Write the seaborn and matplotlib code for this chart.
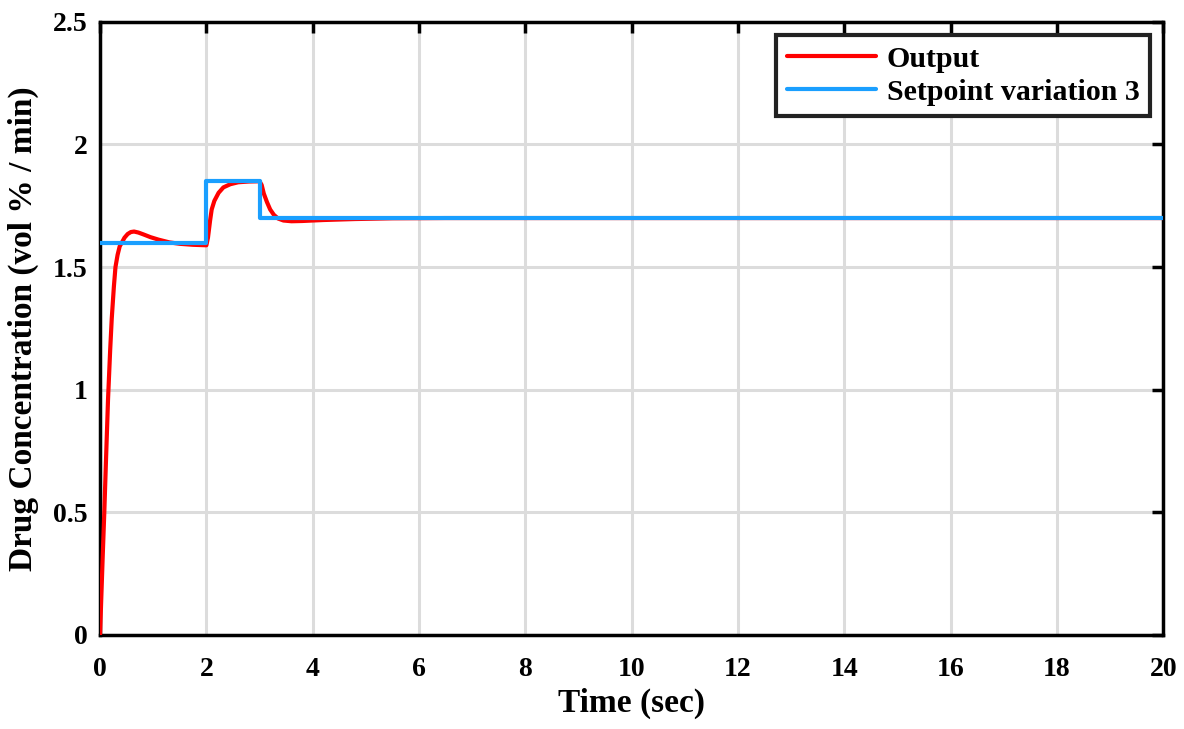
import numpy as np
import pandas as pd
import seaborn as sns
import matplotlib.pyplot as plt

# output response
time_out = [0, 0.02, 0.05, 0.08, 0.11, 0.15, 0.19, 0.22, 0.26, 0.29, 0.33, 0.37,
            0.41, 0.46, 0.52, 0.58, 0.64, 0.72, 0.82, 0.95, 1.1, 1.3, 1.5, 1.75, 2.0,
            2.03, 2.07, 2.10, 2.15, 2.23, 2.32, 2.45, 2.6, 2.8, 3.0,
            3.04, 3.08, 3.14, 3.2, 3.27, 3.35, 3.45, 3.6, 3.8, 4.2, 4.8, 5.5, 6.5, 20]
output = [0, 0.13, 0.32, 0.5, 0.7, 0.96, 1.16, 1.29, 1.42, 1.5, 1.55, 1.585,
          1.60, 1.62, 1.635, 1.643, 1.645, 1.641, 1.633, 1.622, 1.612, 1.601, 1.595, 1.591, 1.589,
          1.62, 1.69, 1.735, 1.77, 1.803, 1.825, 1.838, 1.846, 1.849, 1.85,
          1.835, 1.80, 1.765, 1.735, 1.713, 1.698, 1.69, 1.687, 1.688, 1.692, 1.696, 1.699, 1.70, 1.70]

# setpoint (step changes)
time_sp = [0, 2, 3, 20]
setpoint = [1.6, 1.85, 1.70, 1.70]

x_ticks = [0, 2, 4, 6, 8, 10, 12, 14, 16, 18, 20]
y_ticks = [0, 0.5, 1, 1.5, 2, 2.5]
y_labels = ['0', '0.5', '1', '1.5', '2', '2.5']

sns.set_theme(style='white')
plt.rcParams['font.family'] = ['Liberation Serif', 'DejaVu Serif']
plt.rcParams['font.weight'] = 'bold'
plt.rcParams['text.color'] = 'black'
plt.rcParams['axes.labelcolor'] = 'black'

fig = plt.figure(figsize=(11.84, 7.29), dpi=100)
ax = fig.add_axes([0.0845, 0.129, 0.898, 0.841])

df_out = pd.DataFrame({'t': time_out, 'y': output})
df_sp = pd.DataFrame({'t': time_sp, 'y': setpoint})

sns.lineplot(data=df_out, x='t', y='y', ax=ax, color='#FF0000', lw=3,
             estimator=None, sort=False, label='Output', zorder=3)
sns.lineplot(data=df_sp, x='t', y='y', ax=ax, color='#1A9FFF', lw=3,
             estimator=None, sort=False, drawstyle='steps-post',
             label='Setpoint variation 3', zorder=4)

ax.set_xlim(0, 20)
ax.set_ylim(0, 2.5)
ax.set_xticks(x_ticks)
ax.set_yticks(y_ticks)
ax.set_xticklabels([str(v) for v in x_ticks])
ax.set_yticklabels(y_labels)
ax.grid(True, color='#DCDCDC', lw=2.2)
ax.set_axisbelow(True)
for s in ax.spines.values():
    s.set_color('black')
    s.set_linewidth(2.5)
ax.tick_params(direction='in', length=8, width=2.5, colors='black',
               labelsize=20, top=True, right=True, pad=9)
ax.tick_params(axis='x', pad=16)
for lab in ax.get_xticklabels() + ax.get_yticklabels():
    lab.set_fontweight('bold')

ax.set_xlabel('Time (sec)', fontsize=24, fontweight='bold', labelpad=4)
ax.set_ylabel('Drug Concentration (vol % / min)', fontsize=24, fontweight='bold', labelpad=10)

leg = ax.legend(loc='upper right', handlelength=3.0, fancybox=False,
                framealpha=1, edgecolor='#222222', borderaxespad=0.45,
                handletextpad=0.35, borderpad=0.35, labelspacing=0.2,
                prop={'weight': 'bold', 'size': 21.5})
leg.get_frame().set_linewidth(3)

plt.savefig('out.png', dpi=100)
